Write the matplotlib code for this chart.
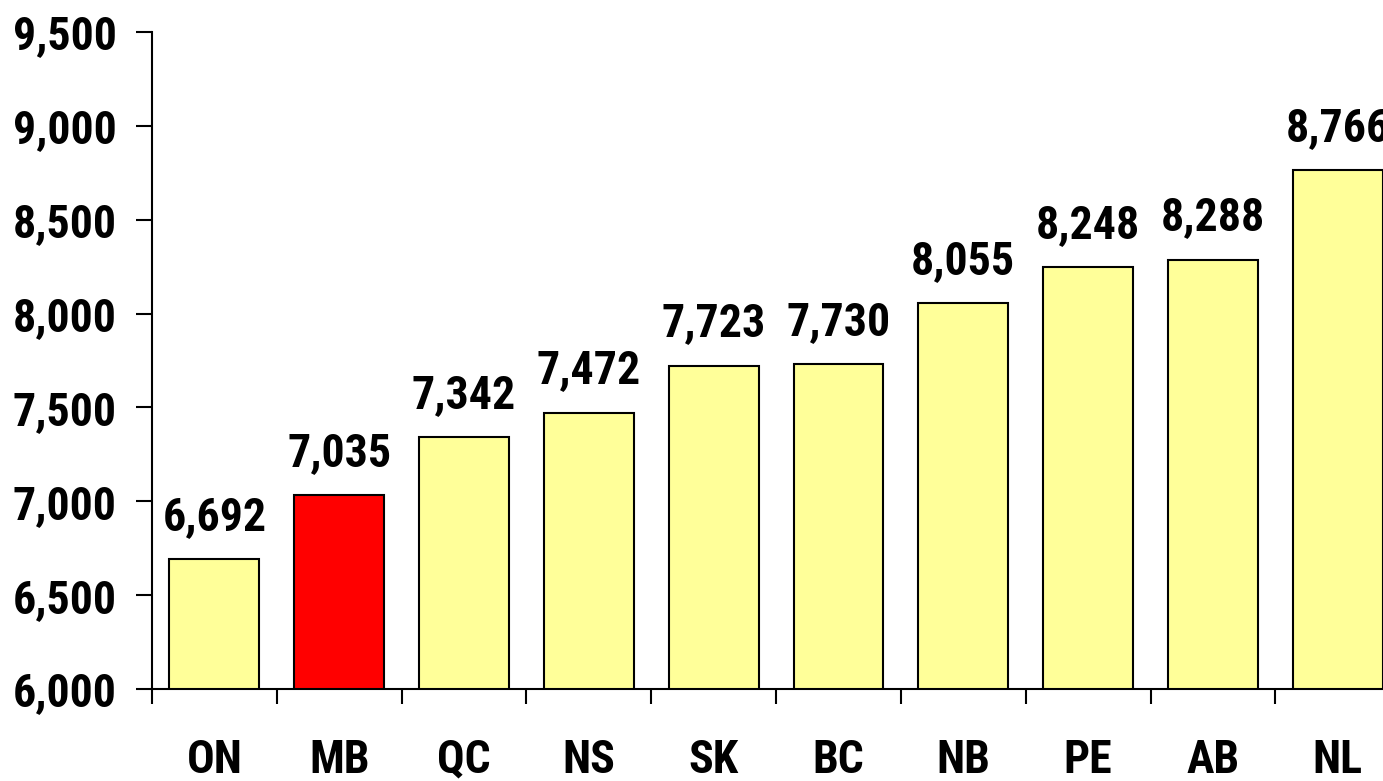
import matplotlib
matplotlib.use("Agg")
import matplotlib.pyplot as plt
from matplotlib.ticker import FuncFormatter, FixedLocator

plt.rcParams['font.family'] = ['Liberation Sans Narrow', 'Roboto Condensed',
                               'Archivo Narrow', 'PT Sans Narrow', 'DejaVu Sans']
plt.rcParams['font.weight'] = 'bold'

provinces = ["ON", "MB", "QC", "NS", "SK", "BC", "NB", "PE", "AB", "NL"]
values = [6692, 7035, 7342, 7472, 7723, 7730, 8055, 8248, 8288, 8766]
highlight = "MB"

yellow = "#FFFF99"
red = "#FF0000"

fig = plt.figure(figsize=(13.83, 7.81), dpi=100)
# axes run past the right edge, as in the original
ax = fig.add_axes([0.1099, 0.1178, 0.9025, 0.8412])

colors = [red if p == highlight else yellow for p in provinces]
x = list(range(len(provinces)))
bars = ax.bar(x, values, width=0.72, color=colors, edgecolor="black", linewidth=1.5)

for rect, v in zip(bars, values):
    ax.annotate(f"{v:,}", (rect.get_x() + rect.get_width() / 2, v),
                xytext=(0, 21), textcoords="offset points",
                ha="center", va="baseline", fontsize=33, fontweight="bold",
                annotation_clip=False)

ax.set_xlim(-0.5, len(provinces) - 0.5)
ax.set_ylim(6000, 9500)
ax.set_yticks(range(6000, 9501, 500))
ax.yaxis.set_major_formatter(FuncFormatter(lambda v, _: f"{int(v):,}"))

ax.set_xticks(x)
ax.set_xticklabels(provinces)
ax.xaxis.set_minor_locator(FixedLocator([i - 0.5 for i in range(len(provinces) + 1)]))

ax.tick_params(axis="y", which="major", direction="out", length=11.5, width=1.5,
               labelsize=33, pad=14)
ax.tick_params(axis="x", which="major", length=0, labelsize=33, pad=35)
ax.tick_params(axis="x", which="minor", direction="out", length=11, width=1.5)

for side in ("top", "right"):
    ax.spines[side].set_visible(False)
for side in ("left", "bottom"):
    ax.spines[side].set_linewidth(1.5)

fig.savefig("out.png", dpi=100)
